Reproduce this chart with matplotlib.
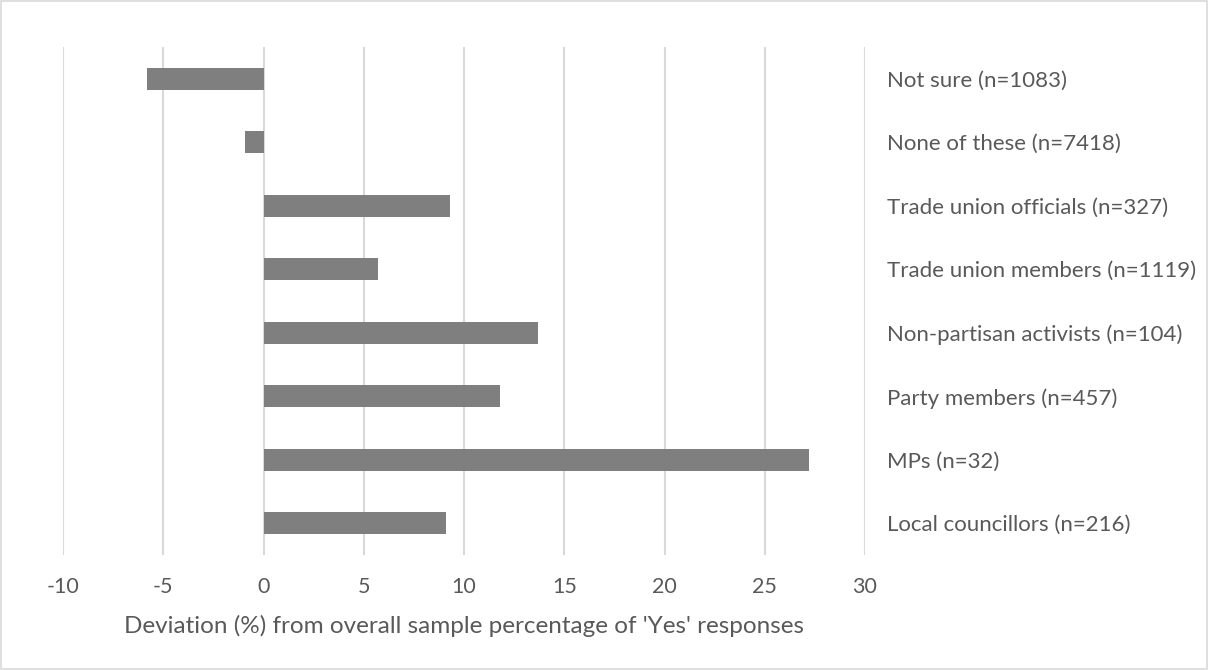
import matplotlib.pyplot as plt
from matplotlib.patches import Rectangle

labels = ["Local councillors (n=216)", "MPs (n=32)", "Party members (n=457)",
          "Non-partisan activists (n=104)", "Trade union members (n=1119)",
          "Trade union officials (n=327)", "None of these (n=7418)", "Not sure (n=1083)"]
values = [9.1, 27.2, 11.8, 13.7, 5.7, 9.3, -0.9, -5.8]
xticks = [-10, -5, 0, 5, 10, 15, 20, 25, 30]

plt.rcParams['font.family'] = ['Lato', 'DejaVu Sans']
txt = '#595959'
grid = '#d9d9d9'

fig = plt.figure(figsize=(12.08, 6.70), dpi=100)
ax = fig.add_axes([63 / 1208, 1 - 555 / 670, (865 - 63) / 1208, (555 - 47) / 670])

ypos = range(len(labels))
ax.barh(ypos, values, height=0.35, color='#7f7f7f', zorder=3)

ax.set_xlim(-10, 30)
ax.set_ylim(-0.5, len(labels) - 0.5)
ax.set_xticks(xticks)
ax.set_xticklabels([str(t) for t in xticks])
ax.set_yticks(list(ypos))
ax.set_yticklabels(labels)
ax.yaxis.tick_right()
ax.tick_params(axis='y', length=0, pad=16, labelsize=16, labelcolor=txt)
ax.tick_params(axis='x', length=0, pad=16, labelsize=15.5, labelcolor=txt)
ax.grid(axis='x', color=grid, linewidth=1.5, zorder=0)
for s in ax.spines.values():
    s.set_visible(False)

ax.set_xlabel("Deviation (%) from overall sample percentage of 'Yes' responses",
              fontsize=17.5, color=txt, labelpad=13)

fig.patches.append(Rectangle((0.001, 0.001), 0.998, 0.998, transform=fig.transFigure,
                             fill=False, edgecolor=grid, linewidth=1.2))

fig.savefig("out.png", dpi=100)
